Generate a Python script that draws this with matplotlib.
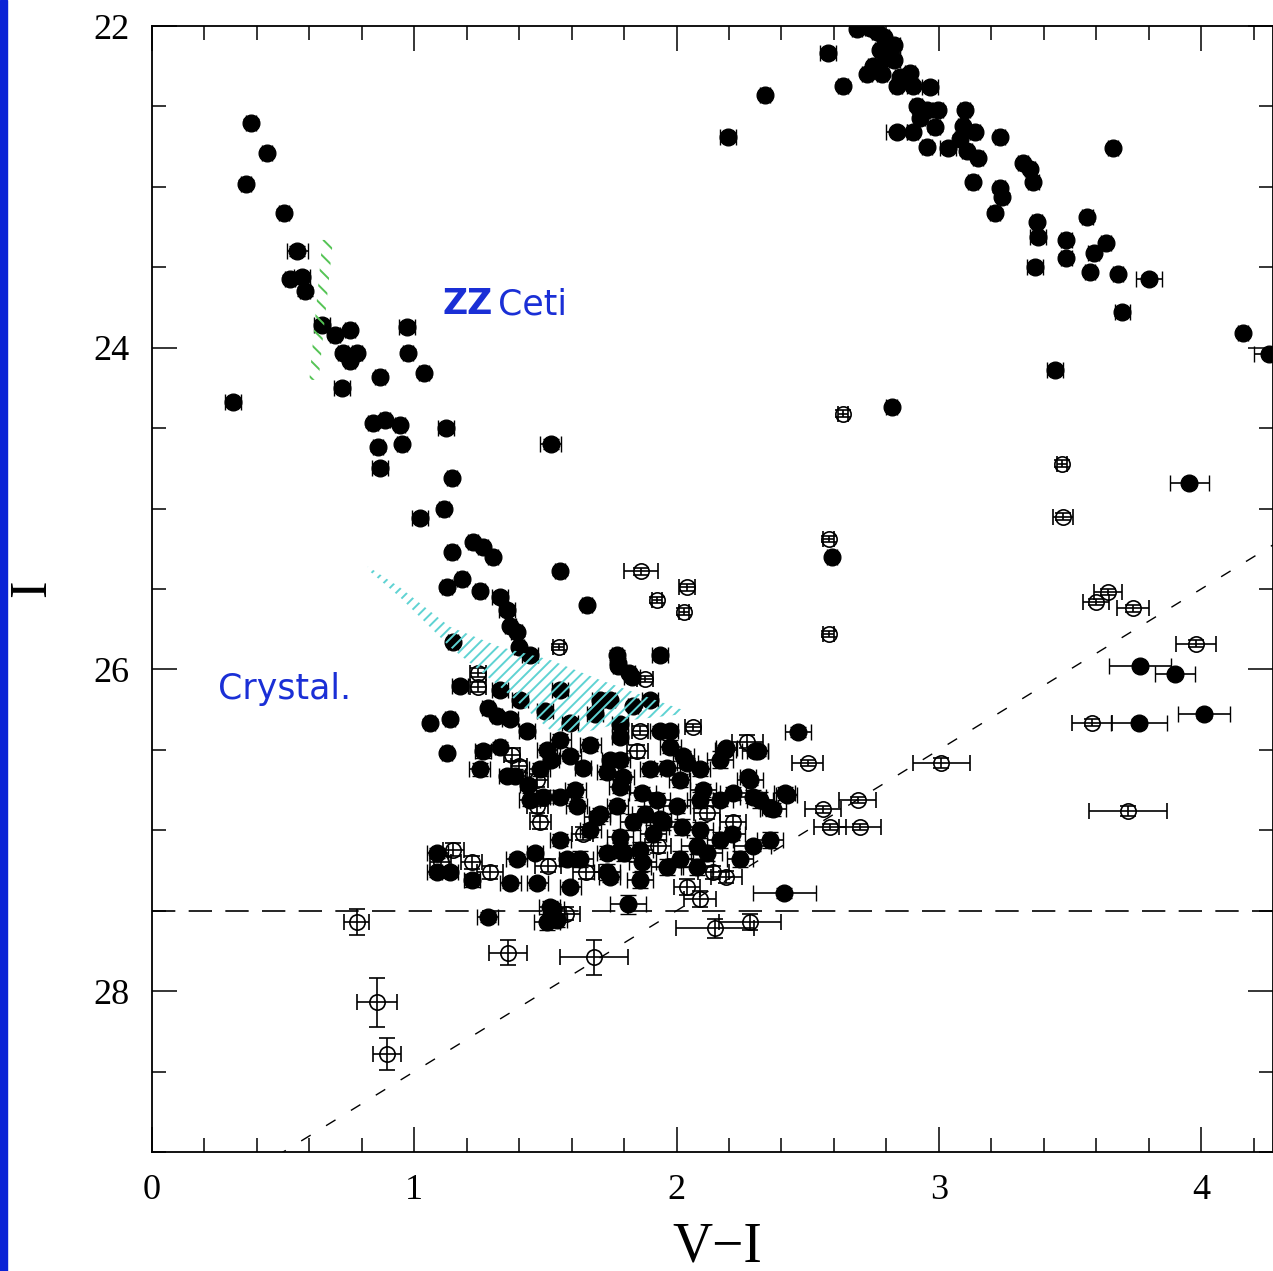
import matplotlib
matplotlib.use("Agg")
import matplotlib.pyplot as plt
from matplotlib.patches import Polygon, Rectangle
import numpy as np

# ---------------- data ----------------
# filled symbols: x = V-I, y = I, errors
filled_x = [0.377, 0.438, 0.358, 0.503, 0.553, 0.526, 0.572, 0.583, 0.648, 0.698, 0.755, 0.728, 0.782, 0.755,
            0.869, 0.972, 0.976, 1.037, 0.724, 0.309, 0.843, 0.888, 0.945, 0.862, 0.953, 0.869, 1.121, 1.144,
            1.113, 1.022, 1.224, 1.262, 1.144, 1.521, 1.30, 1.556, 1.125, 1.182, 1.25, 1.327, 1.354, 1.659,
            1.366, 1.39, 1.40, 1.148, 1.773, 1.777, 1.82, 1.937, 1.174, 1.06, 1.136, 1.125, 1.28, 1.315,
            1.262, 1.327, 1.834, 1.746, 2.463, 2.19, 2.31, 2.272, 2.42, 2.356, 2.29, 2.41, 1.815, 1.28,
            1.506, 1.53,
            1.087, 1.087, 1.136, 1.22, 1.365, 1.39, 1.46, 1.468, 1.582, 1.594, 1.735, 1.746, 1.517, 1.544,
            1.365, 1.43, 1.506, 1.52, 1.594, 1.643, 1.746, 1.796, 1.353, 1.433, 1.49, 1.556, 1.62, 1.697,
            1.773, 1.784, 1.777, 1.83, 1.784, 1.937, 1.975, 1.975, 2.025, 1.963, 2.04, 2.185, 2.30, 2.28,
            2.10, 2.165, 2.215, 2.29, 2.367, 2.413, 1.735, 1.784, 1.87, 1.925, 2.00, 2.02, 1.834, 1.91,
            2.21, 2.078, 2.115, 1.80, 1.87, 1.963, 2.078, 1.735, 1.88, 1.95,
            1.403, 1.498, 1.594, 1.689, 1.784, 1.327, 1.441, 1.556, 1.708, 1.899, 1.556, 1.67, 1.784, 1.899,
            2.013, 2.089, 1.479, 1.613, 1.708, 1.784, 1.86, 1.937, 2.089, 2.165, 2.242, 2.013, 1.86, 1.556,
            1.632, 1.67, 1.441, 1.384, 2.089, 2.318, 1.25, 2.356, 2.165,
            2.196, 2.337, 2.577, 2.634, 2.688, 2.737, 2.764, 2.79, 2.83, 2.775, 2.80, 2.83, 2.75, 2.726,
            2.783, 2.852, 2.89, 2.84, 2.90, 2.966, 2.916, 2.954, 2.997, 2.928, 2.985, 2.84, 2.90, 2.954,
            3.035, 3.10, 3.092, 3.138, 3.08, 3.107, 3.15, 3.233, 3.13, 3.233, 3.24, 3.214, 3.32, 3.347,
            3.36, 3.374, 3.378, 3.366, 3.486, 3.486, 3.566, 3.59, 3.637, 3.576, 3.683, 3.80, 3.664, 3.70,
            4.16, 4.26, 3.443, 2.82, 2.593,
            3.955, 3.767, 3.90, 4.01, 3.763]
filled_y = [22.60, 22.79, 22.98, 23.16, 23.40, 23.57, 23.56, 23.65, 23.86, 23.92, 23.89, 24.03, 24.03, 24.08,
            24.18, 23.87, 24.03, 24.16, 24.25, 24.34, 24.47, 24.45, 24.48, 24.62, 24.60, 24.75, 24.50, 24.81,
            25.00, 25.06, 25.21, 25.24, 25.27, 24.60, 25.30, 25.39, 25.49, 25.44, 25.51, 25.55, 25.63, 25.60,
            25.73, 25.77, 25.86, 25.83, 25.91, 25.96, 26.02, 25.91, 26.10, 26.33, 26.31, 26.52, 26.24, 26.29,
            26.51, 26.48, 26.23, 26.19, 26.39, 26.49, 26.51, 26.67, 26.78, 26.86, 27.10, 27.39, 27.46, 27.54,
            27.57, 27.49,
            27.14, 27.26, 27.26, 27.31, 27.33, 27.18, 27.14, 27.33, 27.18, 27.35, 27.14, 27.29, 27.48, 27.56,
            26.31, 26.38, 26.50, 26.56, 26.54, 26.61, 26.56, 26.67, 26.66, 26.72, 26.79, 26.79, 26.85, 26.92,
            26.85, 27.04, 25.98, 26.05, 26.42, 26.38, 26.38, 26.48, 26.54, 26.61, 26.58, 26.50, 26.51, 26.69,
            26.75, 26.81, 26.77, 26.79, 26.87, 26.77, 26.64, 26.73, 26.77, 26.81, 26.85, 26.98, 26.95, 27.02,
            27.02, 27.10, 27.14, 27.14, 27.20, 27.23, 27.23, 27.26, 26.90, 26.95,
            26.19, 26.26, 26.33, 26.28, 26.34, 26.13, 25.91, 26.13, 26.19, 26.19, 26.44, 26.47, 26.56, 26.62,
            26.69, 26.62, 26.62, 26.75, 26.90, 27.12, 27.12, 26.93, 27.00, 27.06, 27.18, 27.18, 27.31, 27.06,
            27.18, 27.00, 26.81, 26.66, 26.81, 26.81, 26.62, 27.06, 26.56,
            22.69, 22.43, 22.17, 22.37, 22.02, 22.01, 22.04, 22.07, 22.12, 22.15, 22.20, 22.21, 22.25, 22.30,
            22.30, 22.32, 22.29, 22.37, 22.37, 22.38, 22.50, 22.52, 22.52, 22.57, 22.63, 22.66, 22.66, 22.75,
            22.76, 22.52, 22.62, 22.66, 22.70, 22.78, 22.82, 22.69, 22.97, 23.01, 23.06, 23.16, 22.85, 22.89,
            22.97, 23.22, 23.31, 23.50, 23.33, 23.44, 23.19, 23.41, 23.35, 23.53, 23.54, 23.57, 22.76, 23.78,
            23.91, 24.04, 24.14, 24.37, 25.30,
            24.84, 25.98, 26.03, 26.28, 26.33]
filled_xerr = [0.02, 0.02, 0.02, 0.02, 0.04, 0.02, 0.03, 0.02, 0.03, 0.02, 0.02, 0.02, 0.02, 0.02,
               0.02, 0.03, 0.02, 0.02, 0.03, 0.03, 0.02, 0.02, 0.02, 0.02, 0.02, 0.03, 0.03, 0.02,
               0.02, 0.03, 0.02, 0.02, 0.02, 0.04, 0.02, 0.02, 0.02, 0.02, 0.02, 0.03, 0.03, 0.02,
               0.02, 0.02, 0.02, 0.02, 0.02, 0.02, 0.02, 0.03, 0.03, 0.02, 0.02, 0.02, 0.02, 0.02,
               0.03, 0.02, 0.02, 0.02, 0.05, 0.04, 0.04, 0.03, 0.04, 0.03, 0.07, 0.12, 0.07, 0.04,
               0.05, 0.04,
               0.04, 0.04, 0.03, 0.03, 0.04, 0.04, 0.03, 0.04, 0.03, 0.04, 0.04, 0.04, 0.04, 0.04,
               0.03, 0.03, 0.04, 0.03, 0.04, 0.03, 0.03, 0.04, 0.03, 0.03, 0.04, 0.04, 0.04, 0.05,
               0.04, 0.05, 0.02, 0.03, 0.03, 0.04, 0.03, 0.04, 0.04, 0.05, 0.04, 0.04, 0.05, 0.05,
               0.05, 0.05, 0.05, 0.05, 0.05, 0.04, 0.04, 0.04, 0.05, 0.05, 0.05, 0.05, 0.05, 0.05,
               0.05, 0.06, 0.06, 0.05, 0.05, 0.06, 0.06, 0.05, 0.05, 0.05,
               0.03, 0.03, 0.03, 0.03, 0.03, 0.03, 0.03, 0.03, 0.03, 0.03, 0.04, 0.04, 0.04, 0.04,
               0.04, 0.04, 0.04, 0.04, 0.04, 0.05, 0.05, 0.04, 0.05, 0.05, 0.05, 0.05, 0.05, 0.04,
               0.05, 0.04, 0.04, 0.04, 0.05, 0.05, 0.04, 0.05, 0.05,
               0.03, 0.02, 0.03, 0.02, 0.02, 0.02, 0.02, 0.02, 0.02, 0.02, 0.02, 0.02, 0.02, 0.02,
               0.02, 0.02, 0.02, 0.02, 0.02, 0.03, 0.02, 0.02, 0.02, 0.02, 0.02, 0.04, 0.02, 0.02,
               0.03, 0.02, 0.02, 0.02, 0.02, 0.02, 0.02, 0.02, 0.02, 0.02, 0.02, 0.02, 0.02, 0.02,
               0.02, 0.02, 0.03, 0.03, 0.02, 0.02, 0.02, 0.02, 0.02, 0.02, 0.02, 0.05, 0.02, 0.03,
               0.02, 0.06, 0.03, 0.02, 0.02,
               0.074, 0.12, 0.075, 0.10, 0.105]
filled_yerr = [0.02, 0.02, 0.02, 0.02, 0.03, 0.02, 0.02, 0.03, 0.03, 0.02, 0.02, 0.02, 0.02, 0.02,
               0.02, 0.03, 0.02, 0.02, 0.02, 0.02, 0.02, 0.02, 0.02, 0.02, 0.02, 0.03, 0.03, 0.02,
               0.02, 0.02, 0.02, 0.02, 0.02, 0.03, 0.02, 0.02, 0.02, 0.02, 0.02, 0.03, 0.03, 0.02,
               0.02, 0.02, 0.02, 0.02, 0.03, 0.03, 0.02, 0.02, 0.03, 0.02, 0.02, 0.02, 0.02, 0.02,
               0.04, 0.03, 0.02, 0.02, 0.03, 0.02, 0.03, 0.02, 0.02, 0.02, 0.03, 0.03, 0.06, 0.03,
               0.05, 0.03,
               0.03, 0.03, 0.03, 0.04, 0.03, 0.03, 0.03, 0.03, 0.04, 0.03, 0.04, 0.03, 0.04, 0.04,
               0.03, 0.03, 0.03, 0.03, 0.03, 0.03, 0.03, 0.03, 0.03, 0.03, 0.04, 0.04, 0.03, 0.04,
               0.04, 0.04, 0.02, 0.02, 0.03, 0.03, 0.03, 0.04, 0.03, 0.04, 0.03, 0.03, 0.03, 0.03,
               0.04, 0.04, 0.04, 0.04, 0.04, 0.04, 0.04, 0.04, 0.04, 0.04, 0.04, 0.05, 0.05, 0.05,
               0.04, 0.05, 0.05, 0.05, 0.05, 0.05, 0.05, 0.05, 0.05, 0.05,
               0.03, 0.03, 0.03, 0.03, 0.03, 0.03, 0.03, 0.03, 0.03, 0.03, 0.04, 0.04, 0.04, 0.04,
               0.04, 0.04, 0.04, 0.04, 0.04, 0.05, 0.05, 0.04, 0.05, 0.05, 0.05, 0.05, 0.05, 0.04,
               0.05, 0.04, 0.04, 0.04, 0.05, 0.05, 0.04, 0.05, 0.05,
               0.02, 0.02, 0.02, 0.02, 0.02, 0.02, 0.02, 0.02, 0.02, 0.02, 0.02, 0.02, 0.02, 0.02,
               0.02, 0.02, 0.02, 0.02, 0.02, 0.02, 0.02, 0.02, 0.02, 0.02, 0.02, 0.02, 0.02, 0.02,
               0.02, 0.02, 0.02, 0.02, 0.02, 0.02, 0.02, 0.02, 0.02, 0.02, 0.02, 0.02, 0.02, 0.02,
               0.02, 0.02, 0.02, 0.02, 0.02, 0.02, 0.02, 0.02, 0.02, 0.02, 0.02, 0.02, 0.02, 0.02,
               0.02, 0.02, 0.02, 0.02, 0.02,
               0.02, 0.02, 0.02, 0.02, 0.02]

# open symbols
open_x = [2.634, 3.47, 3.473, 3.645, 3.60, 3.74, 3.98, 3.584, 3.01, 3.72, 2.58, 2.58, 1.864, 1.925,
          2.04, 2.028, 1.55, 1.88, 1.243, 1.243, 1.372, 1.86, 2.063, 2.27, 2.50, 2.558, 2.585, 2.69,
          2.70, 0.78, 0.858, 0.896, 1.357, 1.685, 2.146, 2.28, 2.09, 1.468, 1.468, 1.48, 1.643, 1.148,
          1.22, 1.29, 1.51, 1.655, 1.58, 1.85, 2.115, 2.215, 2.14, 2.19, 2.04, 1.40, 1.10, 1.93]
open_y = [24.41, 24.72, 25.05, 25.52, 25.58, 25.62, 25.84, 26.33, 26.58, 26.88, 25.19, 25.78, 25.39, 25.57,
          25.49, 25.64, 25.86, 26.06, 26.02, 26.11, 26.53, 26.38, 26.36, 26.45, 26.58, 26.87, 26.98, 26.81,
          26.98, 27.57, 28.07, 28.39, 27.76, 27.79, 27.61, 27.57, 27.43, 26.69, 26.85, 26.95, 27.02, 27.12,
          27.20, 27.26, 27.22, 27.26, 27.52, 26.51, 26.89, 26.95, 27.26, 27.29, 27.35, 26.60, 27.20, 27.10]
open_xerr = [0.02, 0.02, 0.038, 0.054, 0.05, 0.06, 0.076, 0.075, 0.11, 0.148, 0.02, 0.02, 0.065, 0.02,
             0.03, 0.02, 0.02, 0.03, 0.03, 0.03, 0.03, 0.03, 0.03, 0.06, 0.06, 0.07, 0.06, 0.07,
             0.08, 0.047, 0.078, 0.055, 0.071, 0.13, 0.15, 0.12, 0.06, 0.04, 0.04, 0.04, 0.04, 0.04,
             0.04, 0.05, 0.05, 0.05, 0.05, 0.04, 0.05, 0.05, 0.06, 0.06, 0.05, 0.03, 0.04, 0.05]
open_yerr = [0.02, 0.02, 0.02, 0.02, 0.02, 0.02, 0.02, 0.02, 0.03, 0.03, 0.02, 0.02, 0.02, 0.02,
             0.02, 0.02, 0.02, 0.02, 0.03, 0.03, 0.04, 0.03, 0.02, 0.04, 0.02, 0.02, 0.02, 0.02,
             0.02, 0.08, 0.15, 0.10, 0.078, 0.11, 0.06, 0.05, 0.05, 0.04, 0.04, 0.04, 0.04, 0.04,
             0.04, 0.04, 0.04, 0.04, 0.04, 0.04, 0.04, 0.04, 0.04, 0.04, 0.05, 0.03, 0.04, 0.04]

# limits (dashed lines): I = 27.5 and V = I + (V-I) = 29.5
I_LIMIT = 27.5
V_LIMIT = 29.5

# ZZ Ceti instability strip (green hatched)
zz_x = [0.650, 0.690, 0.635, 0.600]
zz_y = [23.33, 23.33, 24.20, 24.20]
# crystallisation region (cyan hatched)
cr_x = [0.823, 0.945, 1.136, 1.327, 1.517, 1.708, 2.032, 2.032, 1.834, 1.643, 1.517, 1.327, 1.136, 0.945, 0.823]
cr_y = [25.36, 25.49, 25.735, 25.86, 25.94, 26.065, 26.257, 26.276, 26.313, 26.394, 26.375, 26.108, 25.86, 25.55, 25.38]

x_ticks = [0, 1, 2, 3, 4]
y_ticks = [22, 24, 26, 28]

# ---------------- figure ----------------
plt.rcParams['font.family'] = ['Liberation Serif', 'DejaVu Serif']
plt.rcParams['hatch.linewidth'] = 1.4

W, H = 1273, 1271
fig = plt.figure(figsize=(W / 100, H / 100), dpi=100)
fig.patches.append(Rectangle((0, 0), 7 / W, 1, transform=fig.transFigure, color='#0a22d6', zorder=0))

ax = fig.add_axes([152 / W, 1 - 1152 / H, (W - 152) / W, (1152 - 26) / H])
ax.set_xlim(0, 4.274)
ax.set_ylim(29.0, 22.0)

ekw = dict(ecolor='black', elinewidth=1.2, capsize=6, capthick=1.2, linestyle='none')
ax.errorbar(open_x, open_y, xerr=open_xerr, yerr=open_yerr, fmt='o', ms=11, mfc='none', mec='black',
            mew=1.2, zorder=3, **ekw)
ax.errorbar(filled_x, filled_y, xerr=filled_xerr, yerr=filled_yerr, fmt='o', ms=12, mfc='black', mec='black',
            mew=1, zorder=4, **ekw)

xx = np.array([0.0, 4.274])
ax.plot(xx, V_LIMIT - xx, color='black', lw=1.0, dashes=(8, 13), zorder=2)
ax.axhline(I_LIMIT, color='black', lw=1.2, dashes=(14, 8), zorder=2)

ax.add_patch(Polygon(list(zip(zz_x, zz_y)), closed=True, facecolor='none', edgecolor='#55c455',
                     lw=0, hatch='\\\\', zorder=5))
ax.add_patch(Polygon(list(zip(cr_x, cr_y)), closed=True, facecolor='none', edgecolor='#5fd3d3',
                     lw=0, hatch='///', zorder=5))

ax.text(1.109, 23.73, 'ZZ', color='#1a2fd6', fontsize=25, fontweight='bold', family='DejaVu Sans',
        ha='left', va='center')
ax.text(1.318, 23.73, 'Ceti', color='#1a2fd6', fontsize=25, family='DejaVu Sans', ha='left', va='center')
ax.text(0.252, 26.12, 'Crystal.', color='#1a2fd6', fontsize=25, family='DejaVu Sans', ha='left', va='center')

ax.set_xticks(x_ticks)
ax.set_yticks(y_ticks)
ax.set_xticks(np.arange(0, 4.3, 0.2), minor=True)
ax.set_yticks(np.arange(22, 29.01, 0.5), minor=True)
ax.tick_params(which='both', direction='in', top=True, right=True, width=1.1, labelsize=26, pad=16)
ax.tick_params(which='major', length=18)
ax.tick_params(which='minor', length=10)
for s in ax.spines.values():
    s.set_linewidth(1.3)

fig.text(717 / W, 1 - 1247 / H, 'V\u2212I', fontsize=40, ha='center', va='center')
fig.text(32 / W, 1 - 588 / H, 'I', fontsize=38, rotation=90, ha='center', va='center')

fig.savefig('out.png', dpi=100)
